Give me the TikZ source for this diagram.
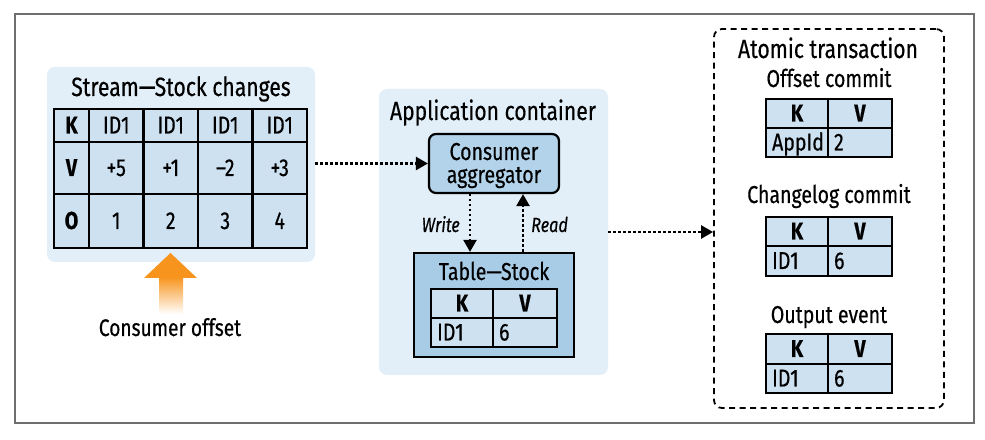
\documentclass[tikz,border=0pt]{standalone}
\usepackage{fontspec}
\setmainfont{Fira Sans}[FakeStretch=0.80, FakeBold=0.45]
\usetikzlibrary{arrows.meta,fit}
\definecolor{boxblue}{HTML}{E2EEF8}
\definecolor{cellblue}{HTML}{CDE1F1}
\definecolor{aggblue}{HTML}{B3D3EA}
\definecolor{tabblue}{HTML}{A9CCE6}
\definecolor{framegray}{HTML}{6E6E6E}
\definecolor{offorange}{HTML}{F7941D}
\tikzset{
  container/.style={fill=boxblue, draw=none, rounded corners=8bp, inner sep=0},
  cell/.style={draw=black, line width=2.2bp, fill=cellblue, inner sep=0},
  celltxt/.style={font=\fontsize{24.5}{26}\selectfont, inner sep=0},
  cellbold/.style={font=\fontsize{24.5}{26}\selectfont\bfseries, inner sep=0},
  ttl/.style={font=\fontsize{24.5}{27}\selectfont, inner sep=0, anchor=base},
  lbl/.style={font=\fontsize{20.5}{22}\selectfont\itshape, inner sep=0},
  dotarrow/.style={line width=2.4bp, dash pattern=on 2.4bp off 2.6bp,
    -{Triangle[length=12bp,width=13bp]}}
}
% cell: name, x1, y1, x2, y2, text (centred)
\newcommand\ccell[6]{%
  \node[cell, fit={(#2,#3)(#4,#5)}] (#1) {};
  \node[celltxt, anchor=base] (#1t) at ([yshift=-8bp]#1.center) {#6};}
\newcommand\bcell[6]{%
  \node[cell, fit={(#2,#3)(#4,#5)}] (#1) {};
  \node[cellbold, anchor=base] (#1t) at ([yshift=-8bp]#1.center) {#6};}
\newcommand\lcell[6]{%
  \node[cell, fit={(#2,#3)(#4,#5)}] (#1) {};
  \node[celltxt, anchor=base west] (#1t) at ([xshift=7bp,yshift=-8bp]#1.west) {#6};}
% key/value table: prefix, x1, xm, x2, y1, ym, y2, key, value
\newcommand\kvtab[9]{%
  \bcell{#1k}{#2}{#5}{#3}{#6}{K}
  \bcell{#1v}{#3}{#5}{#4}{#6}{V}
  \lcell{#1kk}{#2}{#6}{#3}{#7}{#8}
  \lcell{#1vv}{#3}{#6}{#4}{#7}{#9}}
\begin{document}
\begin{tikzpicture}[x=1bp,y=-1bp]
\useasboundingbox (0,0) rectangle (985,440);
\fill[white] (0,0) rectangle (985,440);
% frame
\draw[framegray, line width=1.5bp] (15,14) rectangle (974,423);

% ---- stream container
\node[container, fit={(47,67)(315,262)}] (stream) {};
\node[ttl, font=\fontsize{26.5}{28}\selectfont] (streamttl) at (181,96) {Stream—Stock changes};
\bcell{sk}{54}{109}{89}{142}{K}
\ccell{sk1}{89}{109}{143.5}{142}{ID1}
\ccell{sk2}{143.5}{109}{198}{142}{ID1}
\ccell{sk3}{198}{109}{252.5}{142}{ID1}
\ccell{sk4}{252.5}{109}{307}{142}{ID1}
\bcell{sv}{54}{142}{89}{194}{V}
\ccell{sv1}{89}{142}{143.5}{194}{+5}
\ccell{sv2}{143.5}{142}{198}{194}{+1}
\ccell{sv3}{198}{142}{252.5}{194}{–2}
\ccell{sv4}{252.5}{142}{307}{194}{+3}
\bcell{so}{54}{194}{89}{248}{O}
\ccell{so1}{89}{194}{143.5}{248}{1}
\ccell{so2}{143.5}{194}{198}{248}{2}
\ccell{so3}{198}{194}{252.5}{248}{3}
\ccell{so4}{252.5}{194}{307}{248}{4}

% consumer offset arrow
\shade[top color=offorange, bottom color=white] (159,277) rectangle (183,314);
\fill[offorange] (170.5,253) -- (197,278) -- (144,278) -- cycle;
\node[ttl, font=\fontsize{24}{26}\selectfont] (offlbl) at (170,336) {Consumer offset};

% ---- application container
\node[container, fit={(379,89)(608,375)}] (app) {};
\node[ttl, font=\fontsize{26.5}{29}\selectfont] (appttl) at (493,120) {Application container};
\node[draw=black, line width=2.2bp, fill=aggblue, rounded corners=7bp, inner sep=0,
      fit={(429,134)(559,193)}] (agg) {};
\node[ttl] (aggt1) at (494,160) {Consumer};
\node[ttl] (aggt2) at (494,183) {aggregator};
\node[draw=black, line width=2.2bp, fill=tabblue, inner sep=0,
      fit={(414,253)(574,357)}] (tstock) {};
\node[ttl] (tstockttl) at (494,280) {Table—Stock};
\kvtab{ts}{431}{493}{557}{289}{318}{347}{ID1}{6}

\draw[dotarrow] ([xshift=-24bp]agg.south) -- ([xshift=-24bp]agg.south |- tstock.north);
\draw[dotarrow] ([xshift=29bp]agg.south |- tstock.north) -- ([xshift=29bp]agg.south);
\node[lbl, anchor=base east] (write) at (460,232) {Write};
\node[lbl, anchor=base west] (read) at (531,232) {Read};

% ---- atomic transaction
\node[draw=black, line width=1.8bp, dash pattern=on 6bp off 4.5bp, rounded corners=8bp,
      inner sep=0, fit={(714,29)(944,408)}] (atomic) {};
\node[ttl, font=\fontsize{26.5}{29}\selectfont] (atomicttl) at (828,58) {Atomic transaction};
\node[ttl] (offttl) at (829,87) {Offset commit};
\kvtab{oc}{766}{828}{892}{99}{128}{157}{AppId}{2}
\node[ttl] (chgttl) at (829,203) {Changelog commit};
\kvtab{cc}{766}{828}{892}{217}{246}{276}{ID1}{6}
\node[ttl] (outttl) at (829,323) {Output event};
\kvtab{oe}{766}{828}{892}{334}{364}{393}{ID1}{6}

% ---- connectors
\draw[dotarrow] (stream.east |- agg.west) -- (agg.west);
\draw[dotarrow] (app.east) -- (app.east -| atomic.west);
\end{tikzpicture}
\end{document}
